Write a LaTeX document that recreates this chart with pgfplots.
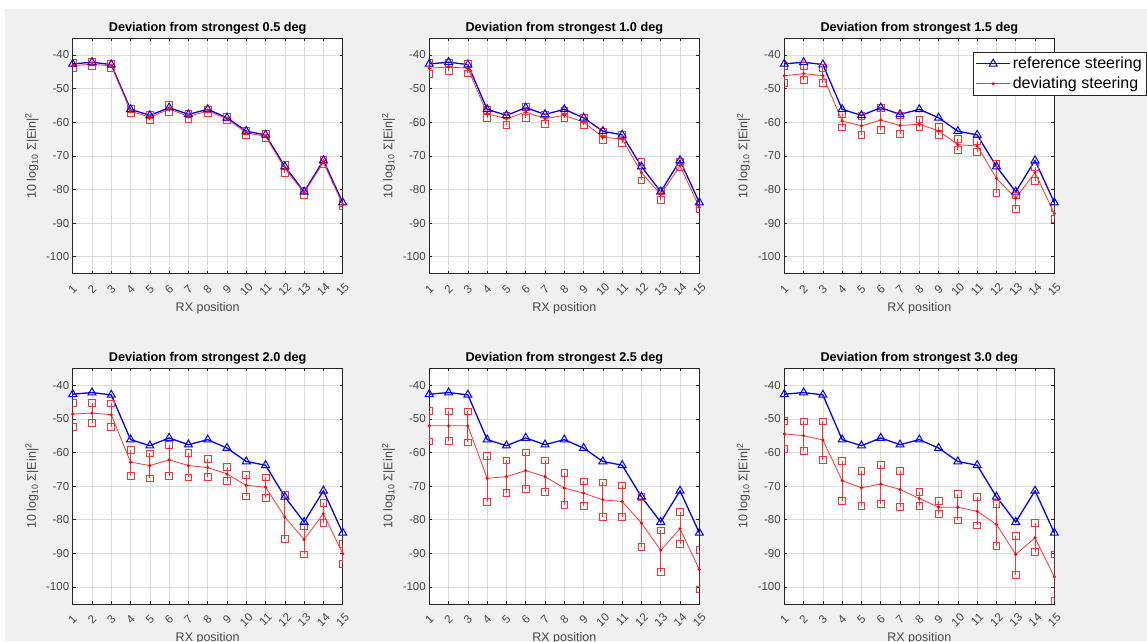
\documentclass[border=0pt]{standalone}
\usepackage{fontspec}
\setmainfont{Liberation Sans}
\usepackage{pgfplots}
\usepackage{pgfplotstable}
\pgfplotsset{compat=1.18}
\definecolor{figbg}{RGB}{240,240,240}
\definecolor{axcol}{RGB}{38,38,38}
\definecolor{ticklab}{RGB}{70,70,70}
\definecolor{mblue}{RGB}{0,0,255}
\definecolor{mred}{RGB}{255,0,0}
\definecolor{lred}{RGB}{255,50,50}

\pgfplotstableread{
x y
1 -42.7
2 -42.2
3 -42.9
4 -56.2
5 -58.0
6 -55.7
7 -57.7
8 -56.2
9 -58.7
10 -62.7
11 -63.8
12 -73.2
13 -80.7
14 -71.4
15 -83.9
}\refdata

\pgfplotstableread{
x m u l
1 -43.2 -42.5 -44.0
2 -42.8 -42.2 -43.4
3 -43.3 -42.6 -44.0
4 -56.7 -56.0 -57.3
5 -58.6 -57.8 -59.3
6 -56.1 -55.0 -57.0
7 -58.3 -57.5 -59.0
8 -56.7 -56.2 -57.2
9 -59.0 -58.5 -59.5
10 -63.2 -62.6 -63.8
11 -64.2 -63.6 -64.8
12 -73.8 -72.6 -75.0
13 -81.0 -80.3 -81.7
14 -72.0 -71.3 -72.5
15 -84.5 -84.0 -85.0
}\devA

\pgfplotstableread{
x m u l
1 -44.0 -42.5 -45.7
2 -43.6 -42.3 -44.8
3 -44.0 -42.7 -45.5
4 -57.5 -56.3 -58.8
5 -59.0 -58.0 -60.8
6 -57.0 -55.4 -58.8
7 -59.0 -57.7 -60.5
8 -58.0 -56.5 -58.8
9 -60.0 -58.7 -61.0
10 -64.5 -63.0 -65.3
11 -65.0 -63.8 -66.2
12 -75.0 -71.9 -77.3
13 -81.5 -80.3 -83.2
14 -73.0 -71.8 -73.4
15 -85.3 -84.3 -85.9
}\devB

\pgfplotstableread{
x m u l
1 -46.2 -43.4 -48.4
2 -45.6 -43.4 -47.4
3 -46.2 -43.9 -48.4
4 -59.7 -57.7 -61.6
5 -61.1 -58.2 -63.8
6 -59.4 -55.7 -62.3
7 -61.0 -58.0 -63.4
8 -60.6 -59.2 -61.6
9 -62.6 -61.4 -63.9
10 -66.7 -64.9 -68.3
11 -67.1 -65.6 -68.8
12 -76.7 -72.3 -81.1
13 -82.6 -81.8 -85.9
14 -75.0 -73.2 -77.5
15 -87.2 -85.5 -88.7
}\devC

\pgfplotstableread{
x m u l
1 -48.6 -45.2 -52.3
2 -48.3 -45.3 -51.3
3 -48.8 -45.4 -52.3
4 -62.9 -59.3 -66.9
5 -63.9 -60.3 -67.7
6 -62.2 -57.7 -66.9
7 -63.9 -60.1 -67.4
8 -64.5 -62.0 -67.2
9 -66.4 -64.4 -68.4
10 -69.8 -66.6 -73.1
11 -70.3 -67.4 -73.4
12 -79.2 -72.5 -85.7
13 -85.9 -82.0 -90.3
14 -78.2 -75.1 -80.9
15 -90.1 -87.1 -93.1
}\devD

\pgfplotstableread{
x m u l
1 -52.1 -47.6 -56.7
2 -52.1 -47.8 -56.5
3 -52.1 -47.8 -57.0
4 -67.7 -61.0 -74.8
5 -67.2 -62.4 -72.1
6 -65.4 -60.0 -70.8
7 -67.2 -62.4 -71.8
8 -70.6 -66.0 -75.5
9 -72.1 -68.6 -75.8
10 -74.1 -68.9 -79.2
11 -74.6 -69.8 -79.2
12 -81.0 -73.3 -88.1
13 -89.1 -83.2 -95.4
14 -82.7 -77.7 -87.1
15 -94.8 -88.9 -100.7
}\devE

\pgfplotstableread{
x m u l
1 -54.5 -50.6 -59.0
2 -55.0 -50.8 -59.5
3 -56.3 -50.8 -62.2
4 -68.4 -62.6 -74.5
5 -70.5 -65.6 -75.8
6 -69.4 -63.6 -75.3
7 -71.0 -65.6 -76.3
8 -73.7 -71.7 -76.0
9 -76.3 -74.5 -78.2
10 -76.3 -72.3 -80.2
11 -77.5 -73.2 -81.7
12 -81.4 -75.3 -87.8
13 -90.3 -84.7 -96.5
14 -85.4 -81.0 -89.6
15 -97.0 -90.3 -104.1
}\devF

\pgfplotsset{
  panel/.style={
    scale only axis, width=270pt, height=235.5pt, anchor=north west,
    xmin=1, xmax=15, ymin=-105, ymax=-35,
    xtick={1,...,15}, ytick={-100,-90,...,-40},
    grid=major, major grid style={draw=black!14, line width=0.5pt},
    axis line style={axcol, line width=0.6pt},
    tick style={axcol, line width=0.5pt}, tick align=inside, major tick length=3pt,
    axis background/.style={fill=white},
    /pgf/number format/assume math mode=true,
    ticklabel style={font=\fontsize{11.5}{12}\selectfont, text=ticklab},
    xticklabel style={yshift=-16pt, rotate=45, anchor=center},
    xlabel={RX position},
    ylabel={10 log\textsubscript{10} Σ|Ein|\textsuperscript{2}},
    label style={font=\fontsize{12.5}{14}\selectfont, text=ticklab},
    xlabel style={at={(axis description cs:0.5,-0.148)}, anchor=center},
    ylabel style={at={(axis description cs:-0.151,0.5)}, anchor=center, rotate=0},
    title style={at={(axis description cs:0.5,1.045)}, anchor=center, yshift=-7pt, font=\bfseries\fontsize{12.7}{14}\selectfont, text=black},
    legend image code/.code={\draw[mark repeat=2,mark phase=2,##1] plot coordinates {(0pt,0pt) (17pt,0pt) (34pt,0pt)};},
  },
  refline/.style={mblue, line width=1.3pt, mark=triangle, mark size=4.6pt, mark options={line width=1pt, solid, draw=mblue}},
  devline/.style={lred, line width=0.8pt, mark=*, mark size=1.1pt, mark options={draw=mred, fill=mred}},
}

\newcommand\devplot[1]{%
  \addplot[devline, error bars/.cd, y dir=both, y explicit, error mark=square,
     error bar style={draw=lred, line width=0.8pt},
     error mark options={draw=lred, color=lred, fill=none, mark size=3.4pt, line width=0.8pt}]
   table[x=x, y=m, y error plus expr=\thisrow{u}-\thisrow{m}, y error minus expr=\thisrow{m}-\thisrow{l}] {#1};}

\begin{document}
\begin{tikzpicture}
\useasboundingbox (0pt,0pt) rectangle (1147pt,-641pt);
\clip (0pt,0pt) rectangle (1147pt,-641pt);
\fill[white] (0pt,0pt) rectangle (1147pt,-641pt);
\fill[figbg] (5pt,-9pt) rectangle (1147pt,-641pt);

\begin{axis}[panel, at={(72.7pt,-38pt)}, title={Deviation from strongest 0.5 deg}]
\addplot[refline] table[x=x,y=y] {\refdata};
\devplot{\devA}
\end{axis}

\begin{axis}[panel, at={(429.3pt,-38pt)}, title={Deviation from strongest 1.0 deg}]
\addplot[refline] table[x=x,y=y] {\refdata};
\devplot{\devB}
\end{axis}

\begin{axis}[panel, at={(784.3pt,-38pt)}, title={Deviation from strongest 1.5 deg},
  legend style={at={(axis description cs:1.3396,0.9407)}, anchor=north east,
    font=\fontsize{16}{18}\selectfont, draw=axcol, fill=white, inner xsep=2pt, inner ysep=3pt,
    row sep=3pt, cells={anchor=west}}]
\addplot[refline] table[x=x,y=y] {\refdata};
\addlegendentry{reference steering}
\devplot{\devC}
\addlegendentry{deviating steering}
\end{axis}

\begin{axis}[panel, at={(72.7pt,-368.3pt)}, title={Deviation from strongest 2.0 deg}]
\addplot[refline] table[x=x,y=y] {\refdata};
\devplot{\devD}
\end{axis}

\begin{axis}[panel, at={(429.3pt,-368.3pt)}, title={Deviation from strongest 2.5 deg}]
\addplot[refline] table[x=x,y=y] {\refdata};
\devplot{\devE}
\end{axis}

\begin{axis}[panel, at={(784.3pt,-368.3pt)}, title={Deviation from strongest 3.0 deg}]
\addplot[refline] table[x=x,y=y] {\refdata};
\devplot{\devF}
\end{axis}
\end{tikzpicture}
\end{document}
